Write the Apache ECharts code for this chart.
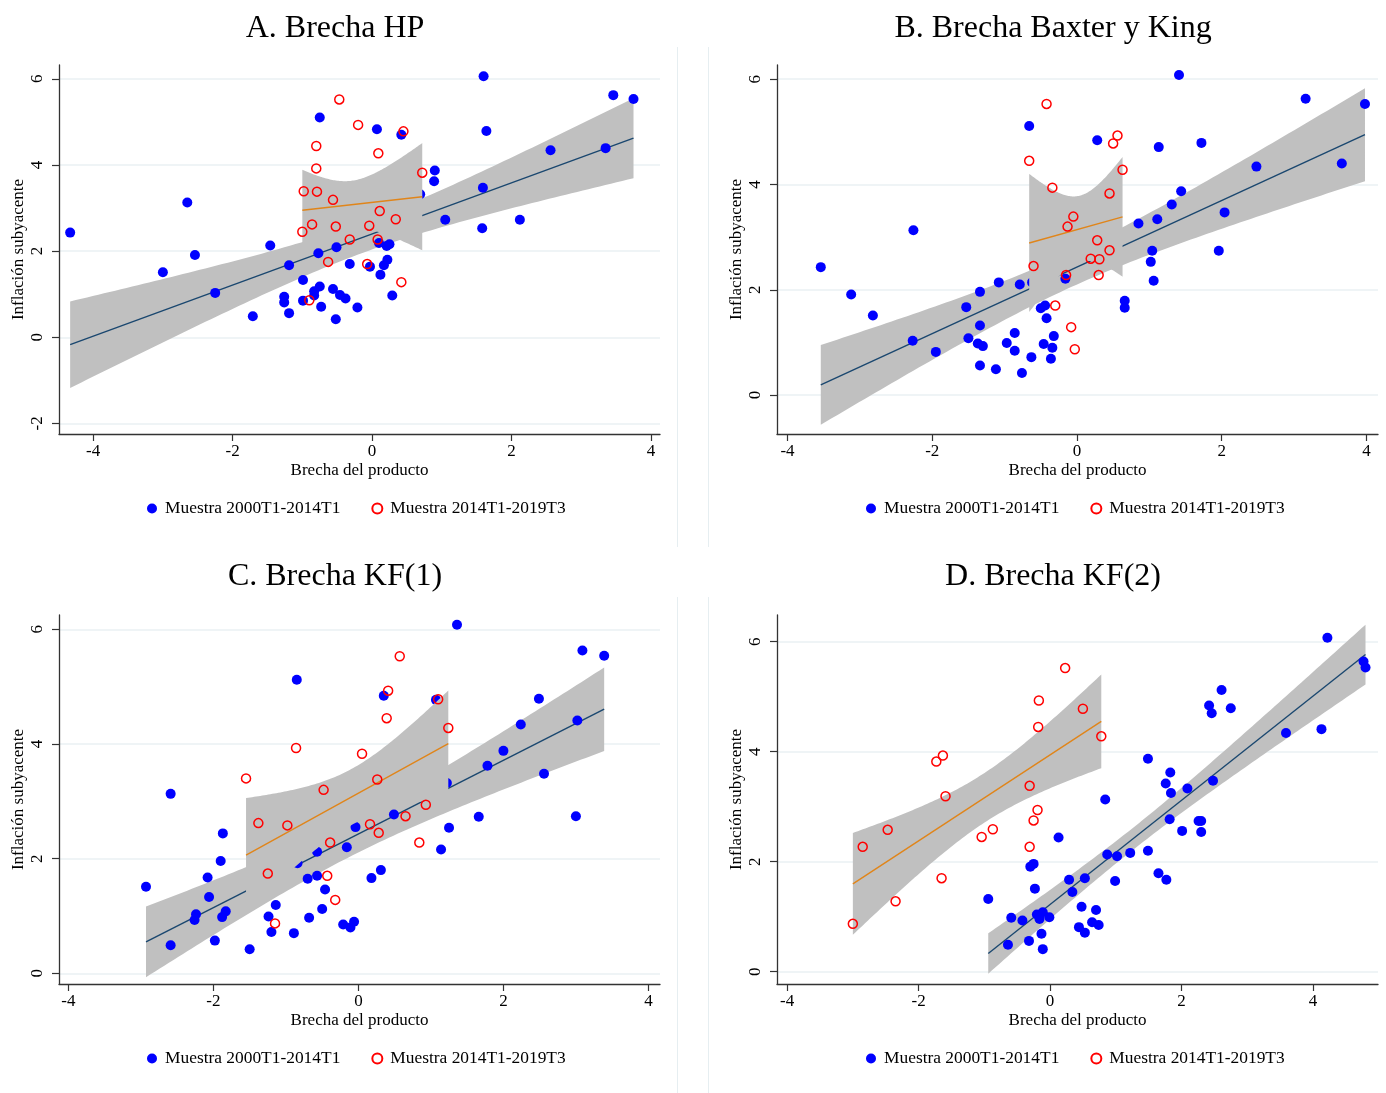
<!DOCTYPE html>
<html>
<head>
<meta charset="utf-8">
<script src="https://cdn.jsdelivr.net/npm/echarts@6/dist/echarts.min.js"></script>
<style>
  html, body { margin: 0; padding: 0; background: #fff; }
  #chart { width: 1386px; height: 1093px; }
</style>
</head>
<body>
<div id="chart"></div>
<script>
// Inflación subyacente vs. brecha del producto, cuatro medidas de brecha.
// Muestra 1: 2000T1-2014T1 (puntos azules). Muestra 2: 2014T1-2019T3 (círculos rojos).

const panelTitles = ['A. Brecha HP', 'B. Brecha Baxter y King', 'C. Brecha KF(1)', 'D. Brecha KF(2)'];
const seriesNames = ['Muestra 2000T1-2014T1', 'Muestra 2014T1-2019T3'];
const xTickValues = [-4, -2, 0, 2, 4];
const yTickValuesHP = [-2, 0, 2, 4, 6];
const yTickValues = [0, 2, 4, 6];

// A. Brecha HP
const hpBlueX = [-4.33,-3.0,-2.65,-2.54,-2.25,-1.71,-1.46,-1.26,-1.26,-1.19,-1.19,-0.99,-0.99,-0.83,-0.83,-0.77,-0.75,-0.75,-0.73,-0.56,-0.52,-0.51,-0.46,-0.38,-0.32,-0.21,-0.03,0.07,0.10,0.12,0.17,0.21,0.22,0.25,0.29,0.42,0.69,0.89,0.90,1.05,1.58,1.59,1.60,1.64,2.12,2.56,3.35,3.46,3.75];
const hpBlueY = [2.43,1.51,3.13,1.91,1.03,0.49,2.13,0.94,0.81,1.67,0.56,1.33,0.85,1.07,0.97,1.95,5.10,1.18,0.71,1.12,0.42,2.09,0.98,0.90,1.70,0.69,1.64,4.83,2.19,1.45,1.67,2.12,1.80,2.16,0.97,4.70,3.32,3.62,3.87,2.73,2.53,3.47,6.06,4.79,2.73,4.34,4.39,5.62,5.53];
const hpRedX = [-0.47,-0.20,-0.80,0.09,0.45,-0.80,0.72,-0.98,-0.79,-0.56,0.11,0.34,-0.86,-0.52,-0.04,-1.00,-0.32,0.08,-0.63,-0.07,0.42,-0.90];
const hpRedY = [5.52,4.93,4.44,4.27,4.78,3.92,3.82,3.39,3.38,3.19,2.93,2.74,2.62,2.57,2.59,2.45,2.27,2.27,1.75,1.70,1.28,0.86];

// B. Brecha Baxter y King
const bkBlueX = [-3.54,-3.12,-2.82,-2.26,-2.27,-1.95,-1.53,-1.50,-1.34,-1.34,-1.34,-1.37,-1.30,-1.12,-1.08,-0.97,-0.86,-0.86,-0.79,-0.76,-0.66,-0.63,-0.62,-0.50,-0.44,-0.46,-0.42,-0.36,-0.34,-0.32,-0.16,0.28,0.66,0.66,0.85,1.02,1.04,1.06,1.11,1.13,1.31,1.41,1.44,1.72,1.96,2.04,2.48,3.16,3.66,3.98];
const bkBlueY = [2.43,1.91,1.51,3.13,1.03,0.82,1.67,1.08,1.96,1.32,0.56,0.98,0.93,0.49,2.14,0.99,1.18,0.84,2.10,0.42,5.11,0.72,2.14,1.65,1.70,0.97,1.46,0.69,0.90,1.12,2.21,4.84,1.79,1.66,3.26,2.53,2.74,2.17,3.34,4.71,3.62,6.08,3.87,4.79,2.74,3.47,4.34,5.63,4.40,5.53];
const bkRedX = [-0.42,0.56,0.50,-0.66,0.63,-0.34,0.45,-0.05,-0.13,0.28,0.45,0.19,0.31,-0.60,-0.15,0.30,-0.30,-0.08,-0.03];
const bkRedY = [5.53,4.93,4.78,4.45,4.28,3.94,3.83,3.39,3.20,2.94,2.75,2.59,2.58,2.45,2.28,2.28,1.70,1.29,0.87];

// C. Brecha KF(1)
const kf1BlueX = [-2.93,-2.59,-2.59,-2.26,-2.24,-2.08,-2.06,-1.98,-1.90,-1.88,-1.87,-1.83,-1.50,-1.24,-1.20,-1.14,-0.89,-0.85,-0.84,-0.70,-0.68,-0.57,-0.57,-0.50,-0.46,-0.21,-0.16,-0.11,-0.06,-0.04,0.18,0.31,0.35,0.49,1.07,1.14,1.22,1.25,1.36,1.66,1.78,2.00,2.24,2.49,2.56,3.00,3.02,3.09,3.39];
const kf1BlueY = [1.51,3.13,0.49,0.93,1.03,1.67,1.33,0.57,1.96,0.98,2.44,1.08,0.42,0.99,0.72,1.19,0.70,5.12,1.92,1.65,0.97,1.70,2.12,1.12,1.46,0.85,2.20,0.80,0.90,2.55,1.66,1.80,4.84,2.77,4.77,2.16,3.32,2.54,6.08,2.73,3.62,3.88,4.34,4.79,3.48,2.74,4.41,5.63,5.54];
const kf1RedX = [0.57,0.41,1.10,0.39,1.24,-0.86,0.05,-1.55,0.26,-0.48,0.93,0.65,-1.38,-0.98,0.16,0.28,-0.39,0.84,-1.25,-0.43,-0.32,-1.15];
const kf1RedY = [5.53,4.93,4.78,4.45,4.28,3.93,3.83,3.40,3.38,3.20,2.94,2.74,2.62,2.58,2.60,2.45,2.28,2.28,1.74,1.70,1.28,0.87];

// D. Brecha KF(2)
const kf2BlueX = [-0.94,-0.64,-0.59,-0.42,-0.32,-0.30,-0.25,-0.23,-0.20,-0.16,-0.13,-0.11,-0.11,-0.01,0.13,0.29,0.34,0.44,0.48,0.53,0.53,0.64,0.70,0.74,0.84,0.87,0.99,1.02,1.22,1.49,1.49,1.65,1.76,1.77,1.83,1.84,1.82,2.01,2.09,2.26,2.30,2.30,2.42,2.46,2.48,2.61,2.75,3.59,4.13,4.22,4.77,4.80];
const kf2BlueY = [1.32,0.49,0.98,0.93,0.56,1.91,1.96,1.51,1.04,0.96,0.69,1.08,0.41,0.99,2.44,1.67,1.45,0.81,1.18,1.70,0.71,0.90,1.12,0.85,3.13,2.13,1.65,2.10,2.16,2.20,3.87,1.79,3.42,1.67,3.62,3.25,2.77,2.56,3.33,2.74,2.74,2.54,4.84,4.70,3.47,5.12,4.79,4.34,4.41,6.07,5.64,5.53];
const kf2RedX = [0.23,-0.17,0.50,-0.18,0.78,-1.63,-1.73,-0.31,-1.59,-0.19,-0.25,-2.47,-0.87,-1.04,-2.85,-0.31,-1.65,-2.35,-3.00];
const kf2RedY = [5.52,4.93,4.78,4.45,4.28,3.93,3.82,3.38,3.19,2.94,2.75,2.58,2.59,2.45,2.27,2.27,1.70,1.28,0.87];

const FONT = '"Liberation Serif", "Times New Roman", serif';
const BLUE = '#0000ff';
const RED = '#ff0000';
const FIT1 = '#1a476f';
const FIT2 = '#e0851a';
const BAND = '#c0c0c0';
const GRIDLINE = '#eaf1f3';
const AXIS = '#333333';

// Panel layout: plot rectangles and axis extents
const panels = [
  { bx: hpBlueX,  by: hpBlueY,  rx: hpRedX,  ry: hpRedY,  left: 59,  top: 65,  xr: [-4.49, 4.13],  yr: [-2.245, 6.32], yt: yTickValuesHP, titleX: 330,  titleTop: 8,   legendX: 142, legendTop: 495 },
  { bx: bkBlueX,  by: bkBlueY,  rx: bkRedX,  ry: bkRedY,  left: 777, top: 65,  xr: [-4.145, 4.16], yr: [-0.74, 6.27],  yt: yTickValues,   titleX: 1048, titleTop: 8,   legendX: 861, legendTop: 495 },
  { bx: kf1BlueX, by: kf1BlueY, rx: kf1RedX, ry: kf1RedY, left: 59,  top: 615, xr: [-4.13, 4.16],  yr: [-0.187, 6.25], yt: yTickValues,   titleX: 330,  titleTop: 556, legendX: 142, legendTop: 1045 },
  { bx: kf2BlueX, by: kf2BlueY, rx: kf2RedX, ry: kf2RedY, left: 777, top: 615, xr: [-4.154, 4.99], yr: [-0.224, 6.485], yt: yTickValues,  titleX: 1048, titleTop: 556, legendX: 861, legendTop: 1045 }
];
const PLOT_W = 601, PLOT_H = 369;

// two-sided 95% Student t quantile (Cornish-Fisher expansion)
function tCrit(df) {
  const z = 1.959964;
  return z + (z ** 3 + z) / (4 * df)
    + (5 * z ** 5 + 16 * z ** 3 + 3 * z) / (96 * df * df)
    + (3 * z ** 7 + 19 * z ** 5 + 17 * z ** 3 - 15 * z) / (384 * df ** 3);
}

// OLS fit with 95% confidence band for the mean prediction
function linearFit(xs, ys, steps) {
  const n = xs.length;
  const mx = xs.reduce((s, v) => s + v, 0) / n;
  const my = ys.reduce((s, v) => s + v, 0) / n;
  let sxx = 0, sxy = 0;
  for (let i = 0; i < n; i++) { sxx += (xs[i] - mx) ** 2; sxy += (xs[i] - mx) * (ys[i] - my); }
  const b = sxy / sxx, a = my - b * mx;
  let sse = 0;
  for (let i = 0; i < n; i++) sse += (ys[i] - a - b * xs[i]) ** 2;
  const s2 = sse / (n - 2);
  const t = tCrit(n - 2);
  const lo = Math.min(...xs), hi = Math.max(...xs);
  const band = [];
  for (let k = 0; k <= steps; k++) {
    const x = lo + (hi - lo) * k / steps;
    const yh = a + b * x;
    const se = Math.sqrt(s2 * (1 / n + (x - mx) ** 2 / sxx));
    band.push([x, yh - t * se, yh + t * se]);
  }
  return { line: [[lo, a + b * lo], [hi, a + b * hi]], band };
}

function bandSeries(idx, band, z) {
  return {
    type: 'custom', xAxisIndex: idx, yAxisIndex: idx, z, silent: true,
    data: band,
    encode: { x: 0, y: [1, 2] },
    renderItem: (params, api) => {
      if (params.dataIndex !== 0) return null;
      const pts = [];
      for (let k = 0; k < band.length; k++) pts.push(api.coord([band[k][0], band[k][2]]));
      for (let k = band.length - 1; k >= 0; k--) pts.push(api.coord([band[k][0], band[k][1]]));
      return { type: 'polygon', shape: { points: pts }, style: { fill: BAND, stroke: null } };
    }
  };
}

function fitLine(idx, line, color, z) {
  return {
    type: 'line', xAxisIndex: idx, yAxisIndex: idx, z, silent: true,
    data: line, showSymbol: false, symbol: 'none',
    lineStyle: { color, width: 1.4 }
  };
}

function zip(xs, ys) { return xs.map((x, i) => [x, ys[i]]); }

const grids = [], xAxes = [], yAxes = [], series = [], titles = [], legends = [];

panels.forEach((p, i) => {
  grids.push({ left: p.left, top: p.top, width: PLOT_W, height: PLOT_H, containLabel: false });

  xAxes.push({
    type: 'value', gridIndex: i, min: p.xr[0], max: p.xr[1],
    name: 'Brecha del producto', nameLocation: 'middle', nameGap: 28,
    nameTextStyle: { fontFamily: FONT, fontSize: 17, color: '#000' },
    axisLine: { show: true, onZero: false, lineStyle: { color: AXIS, width: 1.3 } },
    axisTick: { show: true, length: 7, lineStyle: { color: AXIS, width: 1.2 }, customValues: xTickValues },
    axisLabel: { fontFamily: FONT, fontSize: 17, color: '#000', margin: 9, customValues: xTickValues },
    splitLine: { show: false }
  });

  yAxes.push({
    type: 'value', gridIndex: i, min: p.yr[0], max: p.yr[1],
    name: 'Inflación subyacente', nameLocation: 'middle', nameGap: 32, nameRotate: 90,
    nameTextStyle: { fontFamily: FONT, fontSize: 17, color: '#000' },
    axisLine: { show: true, onZero: false, lineStyle: { color: AXIS, width: 1.3 } },
    axisTick: { show: true, length: 7, lineStyle: { color: AXIS, width: 1.2 }, customValues: p.yt },
    axisLabel: { fontFamily: FONT, fontSize: 17, color: '#000', margin: 13, rotate: 90, customValues: p.yt },
    splitLine: { show: true, lineStyle: { color: GRIDLINE, width: 1.6 } }
  });

  const f1 = linearFit(p.bx, p.by, 100);
  const f2 = linearFit(p.rx, p.ry, 100);

  series.push(bandSeries(i, f1.band, 1));
  series.push(fitLine(i, f1.line, FIT1, 2));
  series.push({
    name: seriesNames[0], type: 'scatter', xAxisIndex: i, yAxisIndex: i, z: 3,
    data: zip(p.bx, p.by), symbol: 'circle', symbolSize: 10,
    itemStyle: { color: BLUE, opacity: 1 }
  });
  series.push(bandSeries(i, f2.band, 4));
  series.push(fitLine(i, f2.line, FIT2, 5));
  series.push({
    name: seriesNames[1], type: 'scatter', xAxisIndex: i, yAxisIndex: i, z: 6,
    data: zip(p.rx, p.ry), symbol: 'circle', symbolSize: 9,
    itemStyle: { color: 'rgba(0,0,0,0)', borderColor: RED, borderWidth: 1.5, opacity: 1 }
  });

  titles.push({
    text: panelTitles[i], left: p.titleX, top: p.titleTop, textAlign: 'center',
    textStyle: { fontFamily: FONT, fontSize: 32, fontWeight: 'normal', color: '#000' }
  });

  legends.push({
    data: seriesNames, left: p.legendX, top: p.legendTop, orient: 'horizontal',
    itemWidth: 10, itemHeight: 10, itemGap: 31, selectedMode: false,
    textStyle: { fontFamily: FONT, fontSize: 17.4, color: '#000', padding: [0, 0, 0, 3] }
  });
});

// faint outlines separating the left and right panels
const sepColor = '#e6eef1';
const graphics = [
  { type: 'line', shape: { x1: 677.5, y1: 47, x2: 677.5, y2: 547 }, style: { stroke: sepColor, lineWidth: 1 } },
  { type: 'line', shape: { x1: 708.5, y1: 47, x2: 708.5, y2: 547 }, style: { stroke: sepColor, lineWidth: 1 } },
  { type: 'line', shape: { x1: 677.5, y1: 597, x2: 677.5, y2: 1093 }, style: { stroke: sepColor, lineWidth: 1 } },
  { type: 'line', shape: { x1: 708.5, y1: 597, x2: 708.5, y2: 1093 }, style: { stroke: sepColor, lineWidth: 1 } }
];

const chart = echarts.init(document.getElementById('chart'), null, { renderer: 'canvas' });
chart.setOption({
  backgroundColor: '#ffffff',
  animation: false,
  title: titles,
  legend: legends,
  grid: grids,
  xAxis: xAxes,
  yAxis: yAxes,
  series: series,
  graphic: graphics
});
</script>
</body>
</html>
